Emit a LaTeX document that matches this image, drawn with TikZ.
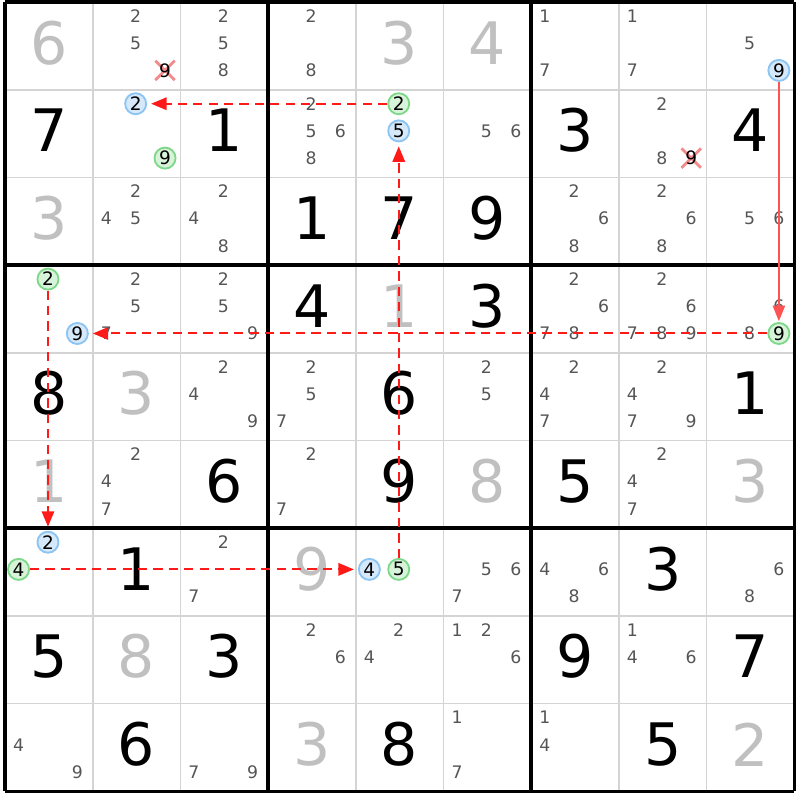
\documentclass[tikz,border=0pt]{standalone}
\usepackage{fontspec}
\setmainfont{DejaVu Sans}
\usepackage{xcolor}
\usetikzlibrary{arrows.meta, shapes.misc}

\definecolor{gridgray}{HTML}{D4D4D4}
\definecolor{solvedgray}{HTML}{C0C0C0}
\definecolor{candgray}{HTML}{555555}
\definecolor{blueface}{HTML}{D6E9FB}
\definecolor{blueline}{HTML}{8CC4F2}
\definecolor{greenface}{HTML}{D7F3D9}
\definecolor{greenline}{HTML}{7FD88A}
\definecolor{strikered}{HTML}{F28B8B}
\definecolor{chainred}{HTML}{FF1A1A}

\newcommand{\candxy}[3]{%
    \pgfmathsetmacro\candx{#2-0.51+0.335*(mod(#3-1,3)-1)}%
    \pgfmathsetmacro\candy{-#1+0.53-0.31*(floor((#3-1)/3)-1)}}
\newcommand{\cands}[3]{\foreach \k in {#3}{\candxy{#1}{#2}{\k}\node[cand] (r#1c#2n\k) at (\candx,\candy) {\k};}}
\newcommand{\hl}[4]{\candxy{#1}{#2}{#3}\node[#4] (r#1c#2n#3) at (\candx,\candy) {#3};}
\newcommand{\struck}[3]{\candxy{#1}{#2}{#3}\node[strike] (r#1c#2x#3) at (\candx,\candy) {};\node[gone] (r#1c#2n#3) at (\candx,\candy) {#3};}
\newcommand{\cellval}[4]{\node[#4] (r#1c#2) at (#2-0.5,-#1+0.535) {#3};}

\begin{document}
\begin{tikzpicture}[
        thinline/.style={draw=gridgray, line width=0.55pt},
        boxline/.style={draw=black, line width=1.1pt},
        given/.style={font=\fontsize{19}{19}\selectfont, text=black, inner sep=0pt},
        solved/.style={given, text=solvedgray},
        cand/.style={font=\fontsize{5.6}{6}\selectfont, text=candgray, inner sep=0pt},
        gone/.style={cand, text=black, font=\fontsize{6}{6}\selectfont},
        hit/.style={cand, text=black, font=\fontsize{6}{6}\selectfont, circle, minimum size=0.24cm, line width=0.6pt},
        bluecand/.style={hit, fill=blueface, draw=blueline},
        greencand/.style={hit, fill=greenface, draw=greenline},
        strike/.style={cross out, draw=strikered, line width=0.9pt, minimum size=0.19cm, inner sep=0pt},
        link/.style={draw=chainred, line width=0.65pt, dash pattern=on 3pt off 2pt, -{Triangle[length=5pt,width=4pt]}, shorten >=1.3pt},
        strong/.style={draw=chainred!75, line width=0.4pt, -{Triangle[length=5pt,width=4pt]}, shorten >=0.3pt}
    ]
    \useasboundingbox (-0.057,0.023) rectangle (9.057,-9.1);
    \foreach \i in {1,...,8} {
        \draw[thinline] (\i,0) -- (\i,-9);
        \draw[thinline] (0,-\i) -- (9,-\i);
    }
    \foreach \i in {0,3,6,9} {
        \draw[boxline] (\i,0) -- (\i,-9);
        \draw[boxline] (0,-\i) -- (9,-\i);
    }

    \cellval{1}{1}{6}{solved}
    \cands{1}{2}{2,5}
    \struck{1}{2}{9}
    \cands{1}{3}{2,5,8}
    \cands{1}{4}{2,8}
    \cellval{1}{5}{3}{solved}
    \cellval{1}{6}{4}{solved}
    \cands{1}{7}{1,7}
    \cands{1}{8}{1,7}
    \cands{1}{9}{5}
    \hl{1}{9}{9}{bluecand}

    \cellval{2}{1}{7}{given}
    \hl{2}{2}{2}{bluecand}
    \hl{2}{2}{9}{greencand}
    \cellval{2}{3}{1}{given}
    \cands{2}{4}{2,5,6,8}
    \hl{2}{5}{2}{greencand}
    \hl{2}{5}{5}{bluecand}
    \cands{2}{6}{5,6}
    \cellval{2}{7}{3}{given}
    \cands{2}{8}{2,8}
    \struck{2}{8}{9}
    \cellval{2}{9}{4}{given}

    \cellval{3}{1}{3}{solved}
    \cands{3}{2}{2,4,5}
    \cands{3}{3}{2,4,8}
    \cellval{3}{4}{1}{given}
    \cellval{3}{5}{7}{given}
    \cellval{3}{6}{9}{given}
    \cands{3}{7}{2,6,8}
    \cands{3}{8}{2,6,8}
    \cands{3}{9}{5,6}

    \hl{4}{1}{2}{greencand}
    \hl{4}{1}{9}{bluecand}
    \cands{4}{2}{2,5,7}
    \cands{4}{3}{2,5,9}
    \cellval{4}{4}{4}{given}
    \cellval{4}{5}{1}{solved}
    \cellval{4}{6}{3}{given}
    \cands{4}{7}{2,6,7,8}
    \cands{4}{8}{2,6,7,8,9}
    \cands{4}{9}{6,8}
    \hl{4}{9}{9}{greencand}

    \cellval{5}{1}{8}{given}
    \cellval{5}{2}{3}{solved}
    \cands{5}{3}{2,4,9}
    \cands{5}{4}{2,5,7}
    \cellval{5}{5}{6}{given}
    \cands{5}{6}{2,5}
    \cands{5}{7}{2,4,7}
    \cands{5}{8}{2,4,7,9}
    \cellval{5}{9}{1}{given}

    \cellval{6}{1}{1}{solved}
    \cands{6}{2}{2,4,7}
    \cellval{6}{3}{6}{given}
    \cands{6}{4}{2,7}
    \cellval{6}{5}{9}{given}
    \cellval{6}{6}{8}{solved}
    \cellval{6}{7}{5}{given}
    \cands{6}{8}{2,4,7}
    \cellval{6}{9}{3}{solved}

    \hl{7}{1}{2}{bluecand}
    \hl{7}{1}{4}{greencand}
    \cellval{7}{2}{1}{given}
    \cands{7}{3}{2,7}
    \cellval{7}{4}{9}{solved}
    \hl{7}{5}{4}{bluecand}
    \hl{7}{5}{5}{greencand}
    \cands{7}{6}{5,6,7}
    \cands{7}{7}{4,6,8}
    \cellval{7}{8}{3}{given}
    \cands{7}{9}{6,8}

    \cellval{8}{1}{5}{given}
    \cellval{8}{2}{8}{solved}
    \cellval{8}{3}{3}{given}
    \cands{8}{4}{2,6}
    \cands{8}{5}{2,4}
    \cands{8}{6}{1,2,6}
    \cellval{8}{7}{9}{given}
    \cands{8}{8}{1,4,6}
    \cellval{8}{9}{7}{given}

    \cands{9}{1}{4,9}
    \cellval{9}{2}{6}{given}
    \cands{9}{3}{7,9}
    \cellval{9}{4}{3}{solved}
    \cellval{9}{5}{8}{given}
    \cands{9}{6}{1,7}
    \cands{9}{7}{1,4}
    \cellval{9}{8}{5}{given}
    \cellval{9}{9}{2}{solved}

    \draw[strong] (r1c9n9) -- (r4c9n9);
    \draw[link] (r4c9n9) -- (r4c1n9);
    \draw[link] (r4c1n2) -- (r7c1n2);
    \draw[link] (r7c1n4) -- (r7c5n4);
    \draw[link] (r7c5n5) -- (r2c5n5);
    \draw[link] (r2c5n2) -- (r2c2n2);
\end{tikzpicture}
\end{document}
